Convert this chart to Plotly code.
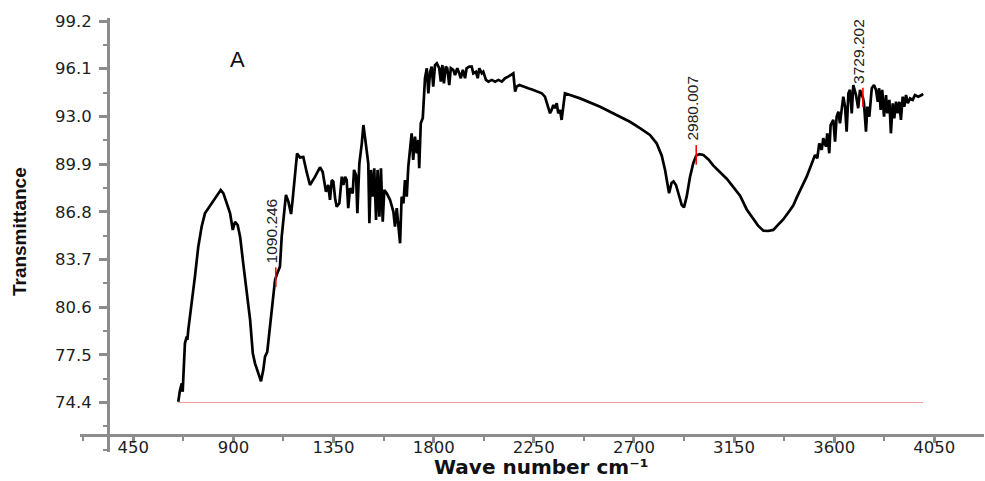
import plotly.graph_objects as go

# ---- data ----
wavenumber = [652, 660, 668, 672, 675, 682, 690, 693, 697, 713, 727, 742, 757, 772, 787, 810, 832, 843, 855, 870,
              885, 897, 907, 919, 930, 944, 960, 975, 987, 997, 1012, 1024, 1034, 1042, 1052, 1064, 1077, 1087, 1097, 1109,
              1117, 1127, 1136, 1147, 1159, 1166, 1177, 1186, 1199, 1214, 1229, 1244, 1267, 1289, 1301, 1316, 1326, 1334, 1342, 1349,
              1357, 1364, 1376, 1387, 1394, 1402, 1409, 1416, 1424, 1436, 1442, 1451, 1457, 1466, 1477, 1484, 1491, 1499, 1506, 1511,
              1518, 1526, 1533, 1541, 1548, 1556, 1563, 1571, 1578, 1589, 1604, 1619, 1626, 1634, 1641, 1649, 1656, 1664, 1671, 1679,
              1686, 1694, 1701, 1708, 1716, 1724, 1731, 1735, 1742, 1751, 1757, 1761, 1769, 1776, 1784, 1791, 1798, 1806, 1814, 1825,
              1832, 1839, 1846, 1854, 1861, 1870, 1877, 1888, 1896, 1906, 1915, 1922, 1931, 1941, 1948, 1960, 1971, 1978, 1990, 1998,
              2005, 2016, 2023, 2035, 2046, 2061, 2076, 2091, 2106, 2121, 2135, 2158, 2166, 2173, 2185, 2203, 2225, 2248, 2270, 2286,
              2300, 2315, 2323, 2330, 2338, 2345, 2353, 2360, 2368, 2375, 2383, 2390, 2413, 2458, 2548, 2607, 2638, 2682, 2727, 2772,
              2802, 2825, 2840, 2850, 2858, 2869, 2878, 2889, 2899, 2915, 2925, 2937, 2952, 2967, 2980, 2994, 3012, 3035, 3057, 3087,
              3117, 3147, 3177, 3207, 3237, 3258, 3282, 3303, 3326, 3350, 3371, 3394, 3416, 3431, 3446, 3462, 3477, 3490, 3499, 3514,
              3524, 3533, 3544, 3551, 3563, 3569, 3578, 3584, 3596, 3604, 3611, 3619, 3626, 3634, 3641, 3649, 3656, 3664, 3671, 3679,
              3686, 3698, 3708, 3716, 3729, 3734, 3743, 3749, 3758, 3769, 3779, 3788, 3796, 3802, 3809, 3816, 3824, 3833, 3839, 3848,
              3855, 3863, 3870, 3878, 3886, 3893, 3900, 3908, 3915, 3923, 3931, 3941, 3953, 3963, 3978, 3993, 4000]
transmittance = [74.45, 75.22, 75.65, 75.10, 76.08, 78.25, 78.68, 78.47, 79.12, 80.85, 82.58, 84.53, 85.83, 86.70, 87.03, 87.46, 88.00, 88.22, 88.00, 87.35,
                 86.70, 85.62, 86.15, 85.94, 85.18, 83.45, 81.72, 79.77, 77.60, 76.95, 76.30, 75.78, 76.51, 77.38, 77.70, 79.33, 81.28, 82.37, 82.80, 83.23,
                 85.18, 86.70, 87.89, 87.46, 86.65, 87.57, 89.08, 90.59, 90.33, 90.36, 89.39, 88.54, 89.08, 89.69, 89.40, 88.10, 88.54, 87.57, 88.86, 88.76,
                 87.68, 87.13, 87.35, 89.08, 88.54, 89.08, 88.86, 87.03, 88.33, 88.00, 89.52, 89.19, 86.70, 89.95, 91.25, 92.44, 91.68, 90.82, 89.95, 86.05,
                 89.52, 87.78, 89.63, 86.27, 89.52, 86.48, 89.63, 86.15, 88.22, 88.00, 87.57, 86.80, 85.83, 87.03, 85.72, 84.75, 87.78, 87.35, 88.86, 87.78,
                 89.73, 90.82, 91.90, 90.17, 91.68, 90.60, 91.47, 89.63, 92.55, 92.90, 94.83, 95.48, 96.13, 94.50, 95.90, 96.23, 94.93, 96.34, 96.45, 96.13,
                 95.26, 96.34, 95.15, 96.23, 96.13, 95.04, 96.13, 96.02, 95.69, 96.13, 95.80, 95.48, 96.02, 95.48, 96.13, 96.23, 96.23, 95.80, 95.90, 95.48,
                 96.13, 95.80, 95.90, 95.37, 95.26, 95.37, 95.26, 95.37, 95.26, 95.48, 95.58, 95.80, 94.61, 94.93, 95.04, 94.93, 94.83, 94.72, 94.61, 94.50,
                 94.28, 93.53, 93.20, 93.42, 93.74, 93.53, 93.85, 93.20, 93.42, 92.77, 93.74, 94.50, 94.39, 94.17, 93.63, 93.20, 93.00, 92.65, 92.23, 91.79,
                 91.25, 90.45, 89.52, 88.65, 88.00, 88.67, 88.77, 88.54, 88.00, 87.24, 87.09, 87.78, 89.06, 89.97, 90.45, 90.55, 90.49, 90.20, 89.80, 89.40,
                 88.95, 88.40, 87.85, 86.95, 86.30, 85.90, 85.57, 85.55, 85.62, 85.95, 86.30, 86.75, 87.20, 87.70, 88.20, 88.65, 89.10, 89.60, 90.00, 90.49,
                 90.28, 91.25, 90.82, 91.58, 91.03, 91.90, 90.60, 92.44, 92.77, 91.36, 92.98, 93.31, 92.55, 93.74, 94.28, 93.63, 92.01, 94.50, 94.72, 93.20,
                 95.04, 94.39, 93.53, 94.72, 94.23, 93.85, 92.01, 93.63, 92.98, 94.83, 95.04, 94.72, 93.95, 94.83, 93.42, 94.72, 92.98, 94.39, 93.20, 94.07,
                 91.90, 93.85, 92.88, 93.95, 93.20, 93.95, 92.77, 94.28, 93.63, 94.39, 93.85, 94.17, 94.07, 94.39, 94.28, 94.39, 94.46]

peak_x = [1090.246, 2980.007, 3729.202]
peak_y = [82.55, 90.50, 94.23]
peak_labels = ["1090.246", "2980.007", "3729.202"]

baseline_level = 74.4

x_tick0, x_dtick = 450, 450
y_tick_values = [74.4, 77.5, 80.6, 83.7, 86.8, 89.9, 93.0, 96.1, 99.2]
y_minor_step = 1.55

panel_label = "A"
x_title = "Wave number cm\u207b\u00b9"
y_title = "Transmittance"

# ---- figure ----
AXIS_COLOR = "#8c8c8c"
TICK_FONT = dict(family="DejaVu Sans", size=16.5, color="#1e1e1e")

fig = go.Figure()
fig.add_trace(go.Scatter(x=[wavenumber[0], wavenumber[-1]], y=[baseline_level, baseline_level],
                         mode="lines", line=dict(color="#f29a9a", width=1), hoverinfo="skip"))
fig.add_trace(go.Scatter(x=wavenumber, y=transmittance, mode="lines",
                         line=dict(color="black", width=2.7)))
fig.add_trace(go.Scatter(x=peak_x, y=peak_y, mode="markers",
                         marker=dict(symbol="line-ns", size=14, color="red",
                                     line=dict(color="red", width=1.6))))

for px_, py_, lab in zip(peak_x, peak_y, peak_labels):
    fig.add_annotation(x=px_, y=py_, xref="x", yref="y", text=lab, showarrow=False,
                       textangle=-90, xanchor="center", yanchor="bottom",
                       xshift=-4, yshift=12,
                       font=dict(family="Liberation Sans", size=15.5, color="#222222"))

fig.add_annotation(x=0.1737, y=0.9055, xref="paper", yref="paper", text=panel_label,
                   showarrow=False, xanchor="center", yanchor="middle",
                   font=dict(family="Liberation Sans", size=22, color="#111111"))
fig.add_annotation(x=-0.0675, y=0.509, xref="paper", yref="paper", text="<b>%s</b>" % y_title,
                   showarrow=False, textangle=-90, xanchor="center", yanchor="middle",
                   font=dict(family="Liberation Sans", size=19, color="#111111"))
fig.add_annotation(x=0.51, y=-0.0668, xref="paper", yref="paper", text="<b>%s</b>" % x_title,
                   showarrow=False, xanchor="center", yanchor="bottom",
                   font=dict(family="DejaVu Sans", size=20, color="#111111"))

fig.update_layout(
    width=985, height=481,
    margin=dict(l=80, r=1, t=18, b=29),
    paper_bgcolor="white", plot_bgcolor="white",
    showlegend=False,
    xaxis=dict(range=[210.4, 4273.4], anchor="free", position=0.0392,
               showline=True, linecolor=AXIS_COLOR, linewidth=3,
               ticks="outside", ticklen=6, tickwidth=2.5, tickcolor=AXIS_COLOR,
               tickmode="linear", tick0=x_tick0, dtick=x_dtick, ticklabelstandoff=-10,
               minor=dict(tickmode="linear", tick0=x_tick0 - x_dtick / 2, dtick=x_dtick / 2,
                          ticks="outside", ticklen=4, tickwidth=2, tickcolor=AXIS_COLOR, showgrid=False),
               showgrid=False, zeroline=False, tickfont=TICK_FONT),
    yaxis=dict(range=[71.185, 99.395], anchor="free", position=0.031,
               showline=True, linecolor=AXIS_COLOR, linewidth=3,
               ticks="outside", ticklen=8, tickwidth=2.5, tickcolor=AXIS_COLOR,
               tickmode="array", tickvals=y_tick_values,
               ticktext=["%.1f" % v for v in y_tick_values], ticklabelstandoff=4,
               minor=dict(tickmode="linear", tick0=y_tick_values[0] - y_minor_step, dtick=y_minor_step,
                          ticks="outside", ticklen=4, tickwidth=2, tickcolor=AXIS_COLOR, showgrid=False),
               showgrid=False, zeroline=False, tickfont=TICK_FONT),
)

fig.write_html("out.html")
